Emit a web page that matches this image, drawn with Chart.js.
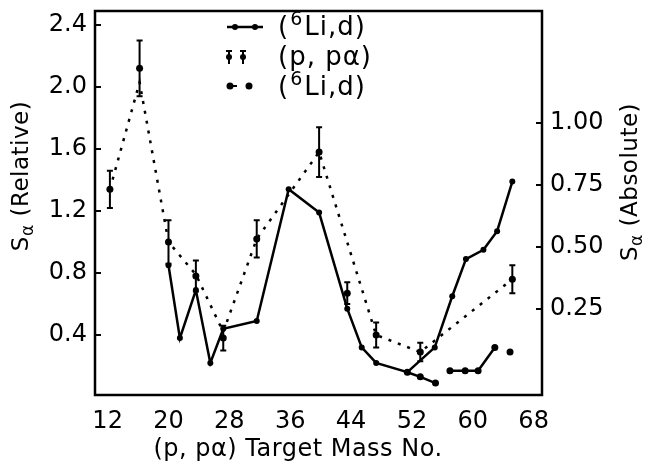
<!DOCTYPE html>
<html>
<head>
<meta charset="utf-8">
<script src="https://cdn.jsdelivr.net/npm/chart.js@4/dist/chart.umd.min.js"></script>
<style>
  html, body { margin: 0; padding: 0; background: #fff; }
</style>
</head>
<body>
<canvas id="chart" width="648" height="465"></canvas>
<script>
// (6Li,d) solid curve
const liSolidMass = [20, 21.5, 23.6, 25.5, 27.2, 31.6, 35.8, 39.8, 43.5, 45.4, 47.3, 51.4, 55.0, 57.3, 59.1, 61.4, 63.2, 65.2];
const liSolidS = [0.85, 0.38, 0.69, 0.22, 0.44, 0.49, 1.34, 1.19, 0.57, 0.32, 0.22, 0.16, 0.32, 0.65, 0.89, 0.95, 1.07, 1.39];

// lower (6Li,d) branch; null breaks the line
const liLowMass = [51.4, 53.1, 55.1, 56, 57.0, 59.0, 60.7, 62.9, 64, 64.9];
const liLowS = [0.16, 0.13, 0.09, null, 0.17, 0.17, 0.17, 0.32, null, 0.29];

// (6Li,d) dotted curve
const liDotMass = [12.3, 16.2, 20.0, 23.6, 27.2, 31.6, 39.8, 47.3, 53.1, 65.2];
const liDotS = [1.34, 2.03, 1.0, 0.79, 0.42, 1.02, 1.58, 0.40, 0.29, 0.76];

// (p,p alpha) points with error bars
const ppaMass = [12.3, 16.2, 20.0, 23.6, 27.2, 31.6, 39.8, 43.5, 47.3, 53.1, 65.2];
const ppaS = [1.34, 2.12, 1.0, 0.78, 0.38, 1.02, 1.58, 0.67, 0.40, 0.29, 0.76];
const ppaErr = [0.12, 0.18, 0.14, 0.10, 0.08, 0.12, 0.16, 0.07, 0.08, 0.06, 0.09];

const massTicks = [12, 20, 28, 36, 44, 52, 60, 68];
const relTicks = [0.4, 0.8, 1.2, 1.6, 2.0, 2.4];
const absTicks = [0.25, 0.50, 0.75, 1.00];

const FONT = "'DejaVu Sans', sans-serif";

function pts(xs, ys) {
  return xs.map((x, i) => ({ x: x, y: ys[i] }));
}

// "S" with a subscript alpha, then the rest of the title
function drawSAlpha(ctx, rest, size) {
  const big = size + "px " + FONT;
  const small = Math.round(size * 0.72) + "px " + FONT;
  ctx.font = big;
  const wS = ctx.measureText("S").width;
  const wR = ctx.measureText(rest).width;
  ctx.font = small;
  const wA = ctx.measureText("\u03b1").width;
  const total = wS + wA + wR;
  let x = -total / 2;
  ctx.textBaseline = "middle";
  ctx.textAlign = "left";
  ctx.font = big;
  ctx.fillText("S", x, 0);
  x += wS;
  ctx.font = small;
  ctx.fillText("\u03b1", x, size * 0.3);
  x += wA;
  ctx.font = big;
  ctx.fillText(rest, x, 0);
}

function drawLiLabel(ctx, x, y, size) {
  const big = size + "px " + FONT;
  const small = Math.round(size * 0.72) + "px " + FONT;
  ctx.textBaseline = "middle";
  ctx.textAlign = "left";
  ctx.font = big;
  ctx.fillText("(", x, y);
  x += ctx.measureText("(").width + 1;
  ctx.font = small;
  ctx.fillText("6", x, y - size * 0.3);
  x += ctx.measureText("6").width + 1;
  ctx.font = big;
  ctx.fillText("Li,d)", x, y);
}

const decorations = {
  id: "decorations",
  afterDatasetsDraw(chart) {
    const ctx = chart.ctx;
    const area = chart.chartArea;
    const xs = chart.scales.x;
    const ys = chart.scales.y;
    const ys1 = chart.scales.y1;
    ctx.save();
    ctx.strokeStyle = "#000";
    ctx.fillStyle = "#000";

    // frame
    ctx.lineWidth = 2.5;
    ctx.strokeRect(area.left, area.top, area.right - area.left, area.bottom - area.top);

    // inward ticks
    ctx.lineWidth = 2;
    ctx.beginPath();
    relTicks.forEach(v => {
      const py = ys.getPixelForValue(v);
      ctx.moveTo(area.left, py);
      ctx.lineTo(area.left + 6, py);
    });
    absTicks.forEach(v => {
      const py = ys1.getPixelForValue(v);
      ctx.moveTo(area.right, py);
      ctx.lineTo(area.right - 6, py);
    });
    ctx.stroke();

    // error bars
    ctx.lineWidth = 2;
    ppaMass.forEach((m, i) => {
      const px = xs.getPixelForValue(m);
      const top = ys.getPixelForValue(ppaS[i] + ppaErr[i]);
      const bot = ys.getPixelForValue(ppaS[i] - ppaErr[i]);
      ctx.beginPath();
      ctx.moveTo(px, top);
      ctx.lineTo(px, bot);
      ctx.moveTo(px - 3, top);
      ctx.lineTo(px + 3, top);
      ctx.moveTo(px - 3, bot);
      ctx.lineTo(px + 3, bot);
      ctx.stroke();
    });

    // legend
    ctx.letterSpacing = "1px";
    ctx.lineWidth = 2.5;
    ctx.beginPath();
    ctx.moveTo(227, 27);
    ctx.lineTo(263, 27);
    ctx.stroke();
    [235, 255].forEach(x => {
      ctx.beginPath();
      ctx.arc(x, 27, 3, 0, Math.PI * 2);
      ctx.fill();
    });
    drawLiLabel(ctx, 278, 28, 26);

    ctx.lineWidth = 2;
    [229, 243].forEach(x => {
      ctx.beginPath();
      ctx.moveTo(x, 50);
      ctx.lineTo(x, 64);
      ctx.moveTo(x - 3, 51);
      ctx.lineTo(x + 3, 51);
      ctx.stroke();
      ctx.beginPath();
      ctx.arc(x, 57, 3, 0, Math.PI * 2);
      ctx.fill();
    });
    ctx.font = "26px " + FONT;
    ctx.textBaseline = "middle";
    ctx.textAlign = "left";
    ctx.fillText("(p, p\u03b1)", 278, 58);

    [230, 249].forEach(x => {
      ctx.beginPath();
      ctx.arc(x, 86, 3.5, 0, Math.PI * 2);
      ctx.fill();
    });
    ctx.beginPath();
    ctx.moveTo(233, 86);
    ctx.lineTo(237, 86);
    ctx.stroke();
    drawLiLabel(ctx, 278, 88, 26);

    // axis titles
    ctx.letterSpacing = "0.5px";
    ctx.save();
    ctx.translate(22, 176);
    ctx.rotate(-Math.PI / 2);
    drawSAlpha(ctx, " (Relative)", 23);
    ctx.restore();

    ctx.save();
    ctx.translate(631, 182);
    ctx.rotate(-Math.PI / 2);
    drawSAlpha(ctx, " (Absolute)", 23);
    ctx.restore();

    ctx.font = "24px " + FONT;
    ctx.textAlign = "center";
    ctx.textBaseline = "middle";
    ctx.fillText("(p, p\u03b1) Target Mass No.", 298, 450);

    ctx.restore();
  }
};

const tickFont = { family: FONT, size: 24 };

new Chart(document.getElementById("chart"), {
  type: "scatter",
  data: {
    datasets: [
      {
        label: "(6Li,d)",
        data: pts(liSolidMass, liSolidS),
        showLine: true,
        borderColor: "#000",
        backgroundColor: "#000",
        borderWidth: 2.5,
        pointRadius: 3,
        pointBorderWidth: 0
      },
      {
        label: "(6Li,d) low",
        data: pts(liLowMass, liLowS),
        showLine: true,
        spanGaps: false,
        borderColor: "#000",
        backgroundColor: "#000",
        borderWidth: 2.5,
        pointRadius: 3.5,
        pointBorderWidth: 0
      },
      {
        label: "(6Li,d) dotted",
        data: pts(liDotMass, liDotS),
        showLine: true,
        borderColor: "#000",
        backgroundColor: "#000",
        borderWidth: 2.5,
        borderDash: [3, 7],
        pointRadius: 0
      },
      {
        label: "(p,pa)",
        data: pts(ppaMass, ppaS),
        showLine: false,
        backgroundColor: "#000",
        borderColor: "#000",
        pointRadius: 3.5,
        pointBorderWidth: 0
      }
    ]
  },
  options: {
    responsive: false,
    animation: false,
    devicePixelRatio: 1,
    layout: { padding: { top: 11, left: 0, right: 0, bottom: 0 } },
    plugins: {
      legend: { display: false },
      tooltip: { enabled: false }
    },
    scales: {
      x: {
        type: "linear",
        min: 10.34,
        max: 69.1,
        afterBuildTicks: (scale) => { scale.ticks = massTicks.map(v => ({ value: v })); },
        afterFit: (scale) => { scale.height = 70; scale.paddingLeft = 0; scale.paddingRight = 0; },
        grid: { display: false, drawTicks: false },
        border: { display: false },
        ticks: { color: "#000", font: tickFont, padding: 12, maxRotation: 0, autoSkip: false }
      },
      y: {
        type: "linear",
        position: "left",
        min: 0.013,
        max: 2.49,
        afterBuildTicks: (scale) => { scale.ticks = relTicks.map(v => ({ value: v })); },
        afterFit: (scale) => { scale.width = 95; scale.paddingTop = 0; scale.paddingBottom = 0; },
        grid: { display: false, drawTicks: false },
        border: { display: false },
        ticks: { color: "#000", font: tickFont, padding: 8, callback: (v) => v.toFixed(1) }
      },
      y1: {
        type: "linear",
        position: "right",
        display: true,
        min: -0.097,
        max: 1.452,
        afterBuildTicks: (scale) => { scale.ticks = absTicks.map(v => ({ value: v })); },
        afterFit: (scale) => { scale.width = 106; scale.paddingTop = 0; scale.paddingBottom = 0; },
        grid: { display: false, drawTicks: false },
        border: { display: false },
        ticks: { color: "#000", font: tickFont, padding: 8, callback: (v) => v.toFixed(2) }
      }
    }
  },
  plugins: [decorations]
});
</script>
</body>
</html>
